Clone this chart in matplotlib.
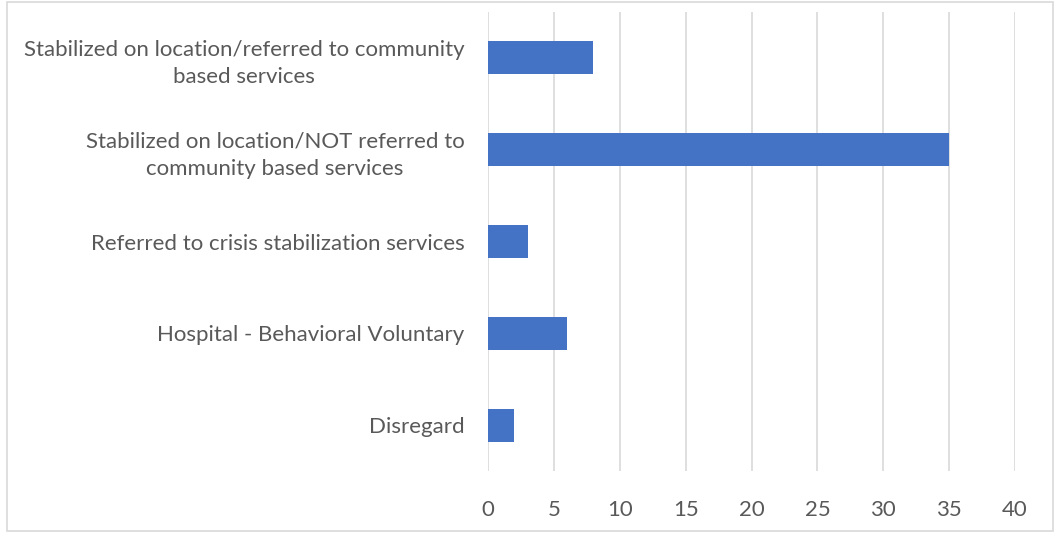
import matplotlib
matplotlib.use("Agg")
import matplotlib.pyplot as plt
from matplotlib.patches import Rectangle

categories = [
    "Stabilized on location/referred to community\nbased services",
    "Stabilized on location/NOT referred to\ncommunity based services",
    "Referred to crisis stabilization services",
    "Hospital - Behavioral Voluntary",
    "Disregard",
]
values = [8, 35, 3, 6, 2]
xticks = [0, 5, 10, 15, 20, 25, 30, 35, 40]

plt.rcParams['font.family'] = ['Lato', 'DejaVu Sans']
text_color = "#595959"

fig = plt.figure(figsize=(10.6, 5.38), dpi=100)
ax = fig.add_axes([488/1060, 1-471/538, (1015-488)/1060, (471-12)/538])

pos = list(range(len(categories)))
ax.barh(pos, values, height=0.36, color="#4472C4", zorder=3)
ax.set_ylim(len(categories)-0.5, -0.5)
ax.set_xlim(0, 40)
ax.set_xticks(xticks)
ax.set_xticklabels([str(t) for t in xticks])
ax.set_yticks(pos)
ax.set_yticklabels(categories, ha='right', multialignment='center', linespacing=1.45)
ax.tick_params(axis='both', length=0, labelsize=16, colors=text_color)
ax.tick_params(axis='y', pad=17)
ax.tick_params(axis='x', pad=21)
ax.grid(axis='x', color="#D9D9D9", linewidth=1.2, zorder=0)
for s in ax.spines.values():
    s.set_visible(False)

fig.patches.append(Rectangle((7/1060, 1-531/538), (1053-7)/1060, (531-2)/538,
                             transform=fig.transFigure, fill=False,
                             edgecolor="#D9D9D9", linewidth=1.2))

fig.savefig("out.png", dpi=100)
